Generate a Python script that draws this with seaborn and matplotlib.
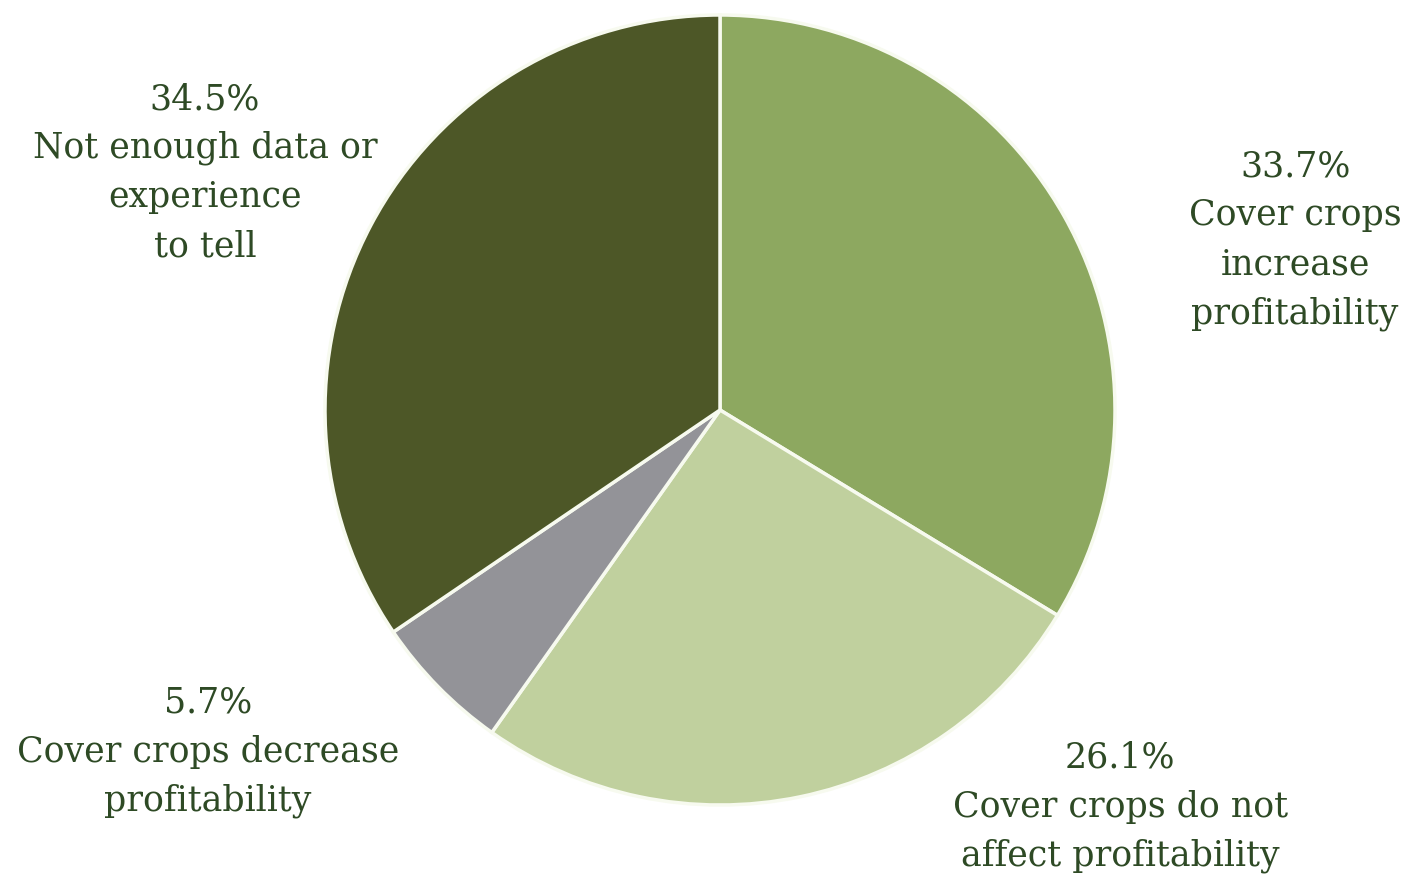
import matplotlib
matplotlib.use("Agg")
import matplotlib.pyplot as plt
import seaborn as sns

# survey shares, clockwise from the top
shares = [33.7, 26.1, 5.7, 34.5]
answers = [
    "Cover crops\nincrease\nprofitability",
    "Cover crops do not\naffect profitability",
    "Cover crops decrease\nprofitability",
    "Not enough data or\nexperience\nto tell",
]
colors = ["#8DA860", "#C0D09E", "#939398", "#4D5727"]

sns.set_style("white")
plt.rcParams["font.family"] = ["DejaVu Serif"]

fig = plt.figure(figsize=(14.1, 8.82), dpi=100)
# square axes: 790 px centred on (720, 410)
ax = fig.add_axes([325 / 1410, 77 / 882, 790 / 1410, 790 / 882])

ax.pie(shares, colors=colors, startangle=90, counterclock=False,
       wedgeprops={"edgecolor": "#F7FAEF", "linewidth": 2.5})
ax.set_xlim(-1, 1)
ax.set_ylim(-1, 1)
ax.set_aspect("equal")
ax.axis("off")

# label positions in axes data units
label_pos = [(1.456, 0.43), (1.013, -1.005), (-1.296, -0.866), (-1.304, 0.601)]
for s, a, (x, y) in zip(shares, answers, label_pos):
    ax.text(x, y, f"{s}%\n{a}", ha="center", va="center", fontsize=25,
            color="#2E4A25", linespacing=1.55, clip_on=False)

fig.savefig("out.png", dpi=100, facecolor="white")
